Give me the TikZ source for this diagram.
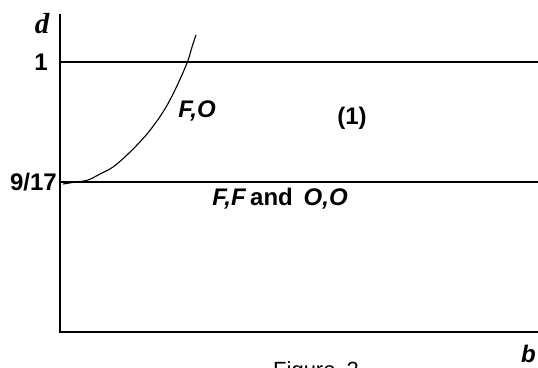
\documentclass[tikz,border=0pt]{standalone}
\usepackage{fontspec}
\setmainfont{Liberation Sans}
\newfontfamily\timesfont{Liberation Serif}
\usetikzlibrary{positioning}

\begin{document}
\begin{tikzpicture}[
    x=1pt, y=-1pt,
    axis/.style={draw, line width=1.4pt},
    level/.style={draw, line width=1.1pt},
    lbl/.style={inner sep=0pt, font=\fontsize{24}{27}\selectfont\bfseries},
    region/.style={inner sep=0pt, font=\fontsize{24}{27}\selectfont\bfseries\itshape}
]
\useasboundingbox (0,0) rectangle (538,367);

% axes
\coordinate (origin) at (60,332);
\coordinate (ytop) at (60,14);
\coordinate (xend) at (538,332);
\draw[axis] (ytop) -- (origin) -- (xend);

% levels d=1 and d=9/17
\coordinate (one) at (60,62);
\coordinate (oneend) at (538,62);
\coordinate (low) at (60,182);
\coordinate (lowend) at (538,182);
\draw[level] (one) -- (oneend);
\draw[level] (low) -- (lowend);

% boundary curve
\draw[line width=1.1pt] plot[smooth, tension=0.6] coordinates {(63,184) (76,182) (88,180) (100,174) (113,167) (128,154) (147,134) (163,112) (175,90) (187,63) (192,47) (196,35)};

% axis labels
\node[inner sep=0pt, font=\timesfont\fontsize{29}{32}\selectfont\bfseries\itshape] (dlbl) at (42,24) {d};
\node[region, anchor=base east] (blbl) at (536,362) {b};
\node[lbl, left=12pt of one] (onelbl) {1};
\node[lbl, left=3pt of low] (lowlbl) {9/17};

% regions
\node[region] (fo) at (197,111) {F,O};
\node[lbl] (reg1) at (352,118) {(1)};
\node[region] (ffoo) at (280,199) {F,F\textup{\,and\hspace{0.45em}}O,O};

% caption
\node[inner sep=0pt, anchor=north west, font=\fontsize{22}{25}\selectfont] (cap) at (273,361) {Figure\hspace{0.5em}2};
\end{tikzpicture}
\end{document}
